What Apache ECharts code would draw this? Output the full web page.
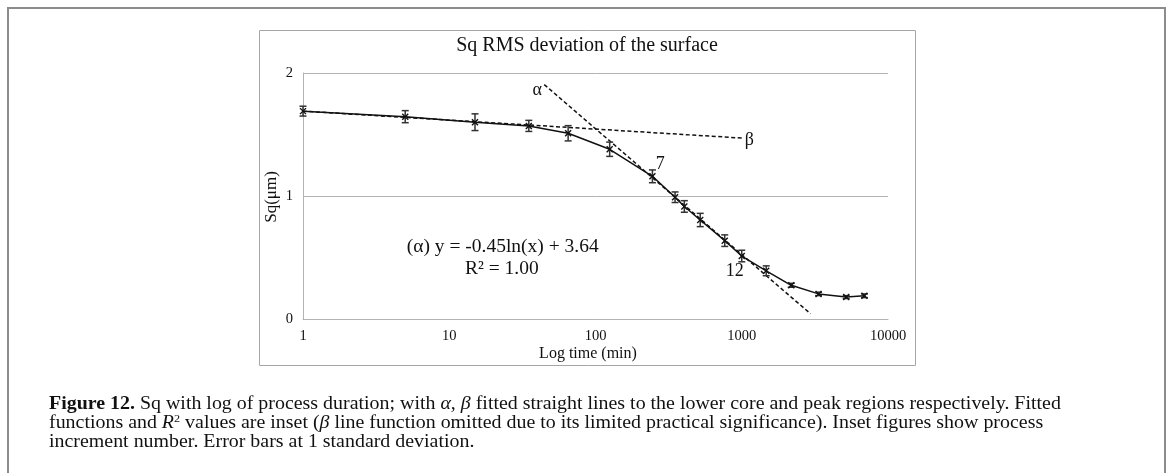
<!DOCTYPE html>
<html><head><meta charset="utf-8">
<script src="https://cdn.jsdelivr.net/npm/echarts@6/dist/echarts.min.js"></script>
<style>html,body{margin:0;padding:0;background:#fff}#c{width:1168px;height:473px}</style>
</head><body><div id="c"></div>
<script>
// ---- data ----
const timeMin   = [1, 5, 15, 35, 65, 125, 245, 350, 405, 520, 765, 1000, 1470, 2180, 3350, 5180, 6900];
const sqValues  = [1.69, 1.645, 1.60, 1.57, 1.51, 1.38, 1.16, 0.99, 0.915, 0.805, 0.637, 0.512, 0.392, 0.274, 0.204, 0.178, 0.189];
const sqStdDev  = [0.04, 0.049, 0.068, 0.045, 0.062, 0.058, 0.052, 0.043, 0.047, 0.054, 0.047, 0.047, 0.04, 0.016, 0.014, 0.012, 0.015];
const alphaLineX = [44.6, 2950];
const alphaLineY = [1.906, 0.043];
const betaLineX  = [1, 1000];
const betaLineY  = [1.69, 1.471];
const xTickLabels = ['1', '10', '100', '1000', '10000'];
const yTickLabels = ['0', '1', '2'];
const labelTexts = ['α', 'β', '7', '12'];
const labelX     = [40, 1127, 277, 894];
const labelY     = [1.857, 1.457, 1.258, 0.386];
const eqTexts = ['(α) y = -0.45ln(x) + 3.64', 'R² = 1.00'];
const eqX     = [23.2, 22.9];
const eqY     = [0.588, 0.405];
const chartTitle = 'Sq RMS deviation of the surface';
const xName = 'Log time (min)';
const yName = 'Sq(μm)';
const captionLines = [
  '{b|Figure 12.} Sq with log of process duration; with {i|α}, {i|β} fitted straight lines to the lower core and peak regions respectively. Fitted',
  'functions and {i|R}{sup|2} values are inset ({i|β} line function omitted due to its limited practical significance). Inset figures show process',
  'increment number. Error bars at 1 standard deviation.'
];
const captionPlain = [
  'Figure 12. Sq with log of process duration; with α, β fitted straight lines to the lower core and peak regions respectively. Fitted',
  'functions and R2 values are inset (β line function omitted due to its limited practical significance). Inset figures show process',
  'increment number. Error bars at 1 standard deviation.'
];

// ---- layout / style ----
const SERIF = '"Liberation Serif", "Times New Roman", serif';
const TXT = '#111';
const capFont = 18;
const mctx = document.createElement('canvas').getContext('2d');
mctx.font = capFont + 'px ' + SERIF;
const targetW1 = 1008;
const capScale = targetW1 / mctx.measureText(captionPlain[0]).width;
const capY = [404, 423, 442];

const chart = echarts.init(document.getElementById('c'), null, {renderer: 'canvas'});

const mainData = timeMin.map((t, i) => [t, sqValues[i]]);
const errData = timeMin.map((t, i) => [t, sqValues[i], sqStdDev[i]]);
const alphaData = alphaLineX.map((x, i) => [x, alphaLineY[i]]);
const betaData = betaLineX.map((x, i) => [x, betaLineY[i]]);

const option = {
  animation: false,
  backgroundColor: '#fff',
  grid: {left: 303, right: 280, top: 73, bottom: 154, containLabel: false},
  xAxis: {
    type: 'log', logBase: 10, min: 1, max: 10000,
    axisLine: {show: true, lineStyle: {color: '#b3b3b3', width: 1}},
    axisTick: {show: false},
    splitLine: {show: false},
    axisLabel: {
      margin: 10, fontFamily: SERIF, fontSize: 14.5, color: TXT,
      formatter: v => xTickLabels[Math.round(Math.log10(v))]
    }
  },
  yAxis: {
    type: 'value', min: 0, max: 2, interval: 1,
    axisLine: {show: true, lineStyle: {color: '#b3b3b3', width: 1}},
    axisTick: {show: false},
    splitLine: {show: true, lineStyle: {color: '#b3b3b3', width: 1}},
    axisLabel: {margin: 10, fontFamily: SERIF, fontSize: 14.5, color: TXT, formatter: v => yTickLabels[Math.round(v)]}
  },
  series: [
    {type: 'line', data: betaData, symbol: 'none', silent: true, z: 2,
     lineStyle: {color: '#111', width: 1.5, type: [4, 2.5]}},
    {type: 'line', data: alphaData, symbol: 'none', silent: true, z: 2,
     lineStyle: {color: '#111', width: 1.5, type: [4, 2.5]}},
    {type: 'line', data: mainData, symbol: 'none', silent: true, z: 3,
     lineStyle: {color: '#111', width: 1.5}},
    {type: 'custom', data: errData, z: 4, silent: true,
     encode: {x: 0, y: 1},
     renderItem: (params, api) => {
       const x = api.value(0), y = api.value(1), e = api.value(2);
       const t = api.coord([x, y + e]), b = api.coord([x, y - e]), c = api.coord([x, y]);
       const cw = 3.5, m = 3;
       const st = {stroke: '#333', lineWidth: 1.5};
       const mk = {stroke: '#111', lineWidth: 1.4};
       return {type: 'group', children: [
         {type: 'line', shape: {x1: t[0], y1: t[1], x2: b[0], y2: b[1]}, style: st},
         {type: 'line', shape: {x1: t[0] - cw, y1: t[1], x2: t[0] + cw, y2: t[1]}, style: st},
         {type: 'line', shape: {x1: b[0] - cw, y1: b[1], x2: b[0] + cw, y2: b[1]}, style: st},
         {type: 'line', shape: {x1: c[0] - m, y1: c[1] - m, x2: c[0] + m, y2: c[1] + m}, style: mk},
         {type: 'line', shape: {x1: c[0] - m, y1: c[1] + m, x2: c[0] + m, y2: c[1] - m}, style: mk}
       ]};
     }}
  ]
};
chart.setOption(option);

// ---- text graphics (annotations placed through the chart's own axes) ----
const graphics = [
  {type: 'rect', shape: {x: 8, y: 8, width: 1157, height: 490}, style: {fill: 'none', stroke: '#8c8c8c', lineWidth: 2}, silent: true},
  {type: 'rect', shape: {x: 259.5, y: 30.5, width: 656, height: 335}, style: {fill: 'none', stroke: '#a6a6a6', lineWidth: 1}, silent: true},
  {type: 'text', x: 587, y: 46, style: {text: chartTitle, font: '20px ' + SERIF, fill: TXT, align: 'center', verticalAlign: 'middle'}, silent: true},
  {type: 'text', x: 588, y: 354, style: {text: xName, font: '16px ' + SERIF, fill: TXT, align: 'center', verticalAlign: 'middle'}, silent: true},
  {type: 'text', x: 272, y: 197, rotation: Math.PI / 2, style: {text: yName, font: '17px ' + SERIF, fill: TXT, align: 'center', verticalAlign: 'middle'}, silent: true}
];
labelTexts.forEach((t, i) => {
  const p = chart.convertToPixel({gridIndex: 0}, [labelX[i], labelY[i]]);
  graphics.push({type: 'text', x: p[0], y: p[1], z: 10, silent: true,
    style: {text: t, font: '18px ' + SERIF, fill: TXT, align: 'center', verticalAlign: 'middle'}});
});
eqTexts.forEach((t, i) => {
  const p = chart.convertToPixel({gridIndex: 0}, [eqX[i], eqY[i]]);
  graphics.push({type: 'text', x: p[0], y: p[1], z: 10, silent: true,
    style: {text: t, font: '19.5px ' + SERIF, fill: TXT, align: 'center', verticalAlign: 'middle'}});
});
captionLines.forEach((line, i) => {
  graphics.push({
    type: 'text', x: 49, y: capY[i], scaleX: capScale, originX: 0,
    style: {
      text: line, font: capFont + 'px ' + SERIF, fill: TXT, align: 'left', verticalAlign: 'middle',
      rich: {
        n: {font: capFont + 'px ' + SERIF, fill: TXT},
        b: {font: 'bold ' + capFont + 'px ' + SERIF, fill: TXT},
        i: {font: 'italic ' + capFont + 'px ' + SERIF, fill: TXT},
        sup: {font: '11px ' + SERIF, fill: TXT, verticalAlign: 'top', padding: [0, 0, 8, 0]}
      }
    },
    silent: true
  });
});
chart.setOption({graphic: graphics});
</script>
</body></html>
